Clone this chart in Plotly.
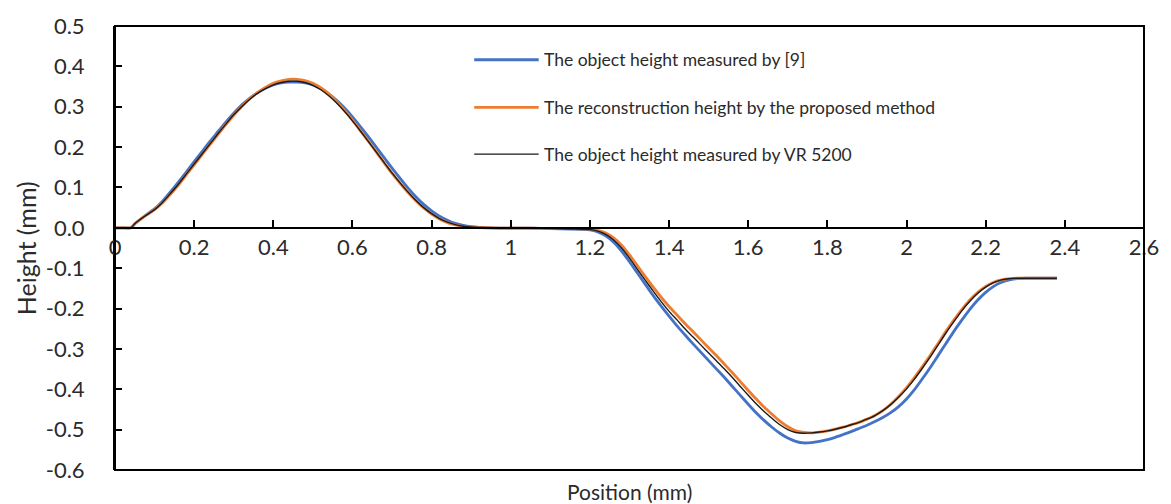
import plotly.graph_objects as go

# Sample positions along the scan (mm)
position = [0, 0.02, 0.04, 0.05, 0.06, 0.08, 0.10, 0.12, 0.14, 0.16, 0.18, 0.20,
            0.22, 0.24, 0.26, 0.28, 0.30, 0.32, 0.34, 0.36, 0.38, 0.40, 0.42, 0.44,
            0.46, 0.48, 0.50, 0.52, 0.54, 0.56, 0.58, 0.60, 0.62, 0.64, 0.66, 0.68,
            0.70, 0.72, 0.74, 0.76, 0.78, 0.80, 0.82, 0.84, 0.86, 0.88, 0.90, 0.95,
            1.00, 1.05, 1.10, 1.15, 1.20, 1.22, 1.24, 1.26, 1.28, 1.30, 1.32, 1.34,
            1.36, 1.38, 1.40, 1.42, 1.44, 1.46, 1.48, 1.50, 1.52, 1.54, 1.56, 1.58,
            1.60, 1.62, 1.64, 1.66, 1.68, 1.70, 1.72, 1.74, 1.76, 1.78, 1.80, 1.82,
            1.84, 1.86, 1.88, 1.90, 1.92, 1.94, 1.96, 1.98, 2.00, 2.02, 2.04, 2.06,
            2.08, 2.10, 2.12, 2.14, 2.16, 2.18, 2.20, 2.22, 2.24, 2.26, 2.28, 2.30,
            2.34, 2.38]

# Height measured by [9] (mm)
height_ref9 = [0, 0, 0, 0.010, 0.018, 0.033, 0.047, 0.066, 0.089, 0.113, 0.138, 0.164,
               0.189, 0.214, 0.238, 0.262, 0.284, 0.304, 0.321, 0.335, 0.346, 0.354, 0.359, 0.361,
               0.361, 0.359, 0.354, 0.345, 0.332, 0.316, 0.297, 0.275, 0.251, 0.226, 0.200, 0.174,
               0.148, 0.123, 0.099, 0.077, 0.058, 0.042, 0.029, 0.019, 0.011, 0.006, 0.003, 0.000,
               -0.001, -0.001, -0.002, -0.003, -0.005, -0.010, -0.020, -0.036, -0.058, -0.084, -0.112, -0.140,
               -0.168, -0.194, -0.219, -0.243, -0.265, -0.287, -0.308, -0.329, -0.350, -0.371, -0.393, -0.415,
               -0.437, -0.458, -0.477, -0.494, -0.509, -0.521, -0.529, -0.533, -0.532, -0.529, -0.525, -0.519,
               -0.512, -0.505, -0.497, -0.489, -0.480, -0.470, -0.458, -0.443, -0.424, -0.401, -0.374, -0.346,
               -0.316, -0.286, -0.256, -0.228, -0.202, -0.179, -0.160, -0.145, -0.135, -0.129, -0.126, -0.125,
               -0.125, -0.125]

# Height reconstructed by the proposed method (mm)
height_proposed = [0, 0, 0, 0.010, 0.018, 0.032, 0.045, 0.062, 0.083, 0.106, 0.131, 0.156,
                   0.181, 0.206, 0.231, 0.256, 0.279, 0.300, 0.319, 0.335, 0.348, 0.358, 0.364, 0.368,
                   0.368, 0.365, 0.358, 0.347, 0.332, 0.313, 0.291, 0.267, 0.241, 0.215, 0.188, 0.161,
                   0.135, 0.111, 0.088, 0.067, 0.049, 0.034, 0.022, 0.013, 0.007, 0.003, 0.001, 0.000,
                   -0.001, -0.001, -0.002, -0.002, -0.003, -0.006, -0.013, -0.025, -0.043, -0.067, -0.094, -0.121,
                   -0.147, -0.172, -0.195, -0.216, -0.237, -0.257, -0.277, -0.297, -0.317, -0.338, -0.359, -0.381,
                   -0.403, -0.424, -0.444, -0.462, -0.479, -0.493, -0.503, -0.507, -0.508, -0.506, -0.503, -0.499,
                   -0.494, -0.488, -0.482, -0.474, -0.465, -0.453, -0.437, -0.418, -0.396, -0.371, -0.344, -0.316,
                   -0.286, -0.256, -0.228, -0.202, -0.179, -0.160, -0.145, -0.135, -0.129, -0.126, -0.125, -0.125,
                   -0.125, -0.125]

# Height measured by VR 5200 (mm)
height_vr5200 = [0, 0, 0, 0.010, 0.018, 0.032, 0.045, 0.063, 0.085, 0.108, 0.133, 0.158,
                 0.183, 0.208, 0.233, 0.257, 0.280, 0.300, 0.318, 0.333, 0.345, 0.354, 0.360, 0.363,
                 0.363, 0.360, 0.353, 0.342, 0.327, 0.309, 0.288, 0.265, 0.240, 0.214, 0.188, 0.162,
                 0.136, 0.112, 0.089, 0.068, 0.050, 0.035, 0.023, 0.014, 0.008, 0.004, 0.002, 0.000,
                 -0.001, -0.001, -0.002, -0.003, -0.004, -0.008, -0.016, -0.030, -0.050, -0.075, -0.103, -0.130,
                 -0.157, -0.183, -0.207, -0.228, -0.250, -0.270, -0.290, -0.310, -0.330, -0.350, -0.371, -0.393,
                 -0.415, -0.436, -0.455, -0.472, -0.488, -0.500, -0.507, -0.509, -0.508, -0.506, -0.503, -0.499,
                 -0.494, -0.488, -0.482, -0.474, -0.465, -0.453, -0.438, -0.420, -0.399, -0.375, -0.348, -0.320,
                 -0.290, -0.260, -0.232, -0.205, -0.182, -0.162, -0.147, -0.136, -0.129, -0.126, -0.125, -0.125,
                 -0.125, -0.125]

series_names = ["The object height measured by [9]",
                "The reconstruction height by the proposed method",
                "The object height measured by VR 5200"]
series_colors = ["#4472C4", "#ED7D31", "#1a1a1a"]
series_widths = [2.8, 2.8, 1.4]

x_tickvals = [0, 0.2, 0.4, 0.6, 0.8, 1.0, 1.2, 1.4, 1.6, 1.8, 2.0, 2.2, 2.4, 2.6]
x_ticktext = ["0", "0.2", "0.4", "0.6", "0.8", "1", "1.2", "1.4", "1.6", "1.8", "2", "2.2", "2.4", "2.6"]
y_tickvals = [0.5, 0.4, 0.3, 0.2, 0.1, 0.0, -0.1, -0.2, -0.3, -0.4, -0.5, -0.6]
y_ticktext = ["0.5", "0.4", "0.3", "0.2", "0.1", "0.0", "-0.1", "-0.2", "-0.3", "-0.4", "-0.5", "-0.6"]

W, H = 1171, 504
ML, MR, MT, MB = 115, 19, 23, 34
X_RANGE = [0, 2.6]
Y_RANGE = [-0.6, 0.5]
FONT = "Lato"
TEXT_COLOR = "#2b2b2b"
TICK_SIZE = 22
X_TITLE_SIZE = 21
Y_TITLE_SIZE = 25
LEGEND_SIZE = 17.5


def paper_x(px):
    return (px - ML) / (W - ML - MR)


def paper_y(py):
    return (H - MB - py) / (H - MT - MB)


fig = go.Figure()
for name, ys, color, width in zip(series_names,
                                  [height_ref9, height_proposed, height_vr5200],
                                  series_colors, series_widths):
    fig.add_trace(go.Scatter(x=position, y=ys, mode="lines", name=name,
                             line=dict(color=color, width=width, shape="spline", smoothing=0.6),
                             showlegend=False))

# plot-area frame
fig.add_shape(type="rect", xref="paper", yref="paper", x0=0, y0=0, x1=1, y1=1,
              line=dict(color="black", width=2), layer="above")

# legend drawn as line samples with labels
legend_rows = [57, 105, 152]
for name, color, width, row in zip(series_names, series_colors, series_widths, legend_rows):
    fig.add_shape(type="line", xref="paper", yref="paper",
                  x0=paper_x(477), x1=paper_x(542), y0=paper_y(row), y1=paper_y(row),
                  line=dict(color=color, width=width))
    fig.add_annotation(xref="paper", yref="paper", x=paper_x(545), y=paper_y(row),
                       text=name, showarrow=False, xanchor="left", yanchor="middle",
                       font=dict(family=FONT, size=LEGEND_SIZE, color=TEXT_COLOR))

# axis titles
fig.add_annotation(xref="paper", yref="paper", x=0.5, y=paper_y(492), text="Position (mm)",
                   showarrow=False, xanchor="center", yanchor="middle",
                   font=dict(family=FONT, size=X_TITLE_SIZE, color=TEXT_COLOR))
fig.add_annotation(xref="paper", yref="paper", x=paper_x(26), y=paper_y(247), text="Height (mm)",
                   showarrow=False, xanchor="center", yanchor="middle", textangle=-90,
                   font=dict(family=FONT, size=Y_TITLE_SIZE, color=TEXT_COLOR))

zero_pos = (0 - Y_RANGE[0]) / (Y_RANGE[1] - Y_RANGE[0])

fig.update_layout(
    width=W, height=H,
    margin=dict(l=ML, r=MR, t=MT, b=MB),
    paper_bgcolor="white", plot_bgcolor="white",
    font=dict(family=FONT, size=TICK_SIZE, color=TEXT_COLOR),
    xaxis=dict(range=X_RANGE, tickvals=x_tickvals, ticktext=x_ticktext,
               anchor="free", position=zero_pos,
               showline=True, linecolor="black", linewidth=2,
               ticks="inside", ticklen=7, tickwidth=2, tickcolor="black",
               showgrid=False, zeroline=False, ticklabelstandoff=0,
               tickfont=dict(family=FONT, size=TICK_SIZE, color=TEXT_COLOR)),
    yaxis=dict(range=Y_RANGE, tickvals=y_tickvals, ticktext=y_ticktext,
               showline=True, linecolor="black", linewidth=2,
               ticks="inside", ticklen=7, tickwidth=2, tickcolor="black",
               showgrid=False, zeroline=False, ticklabelstandoff=24,
               tickfont=dict(family=FONT, size=TICK_SIZE, color=TEXT_COLOR)),
)

fig.write_html("out.html")
